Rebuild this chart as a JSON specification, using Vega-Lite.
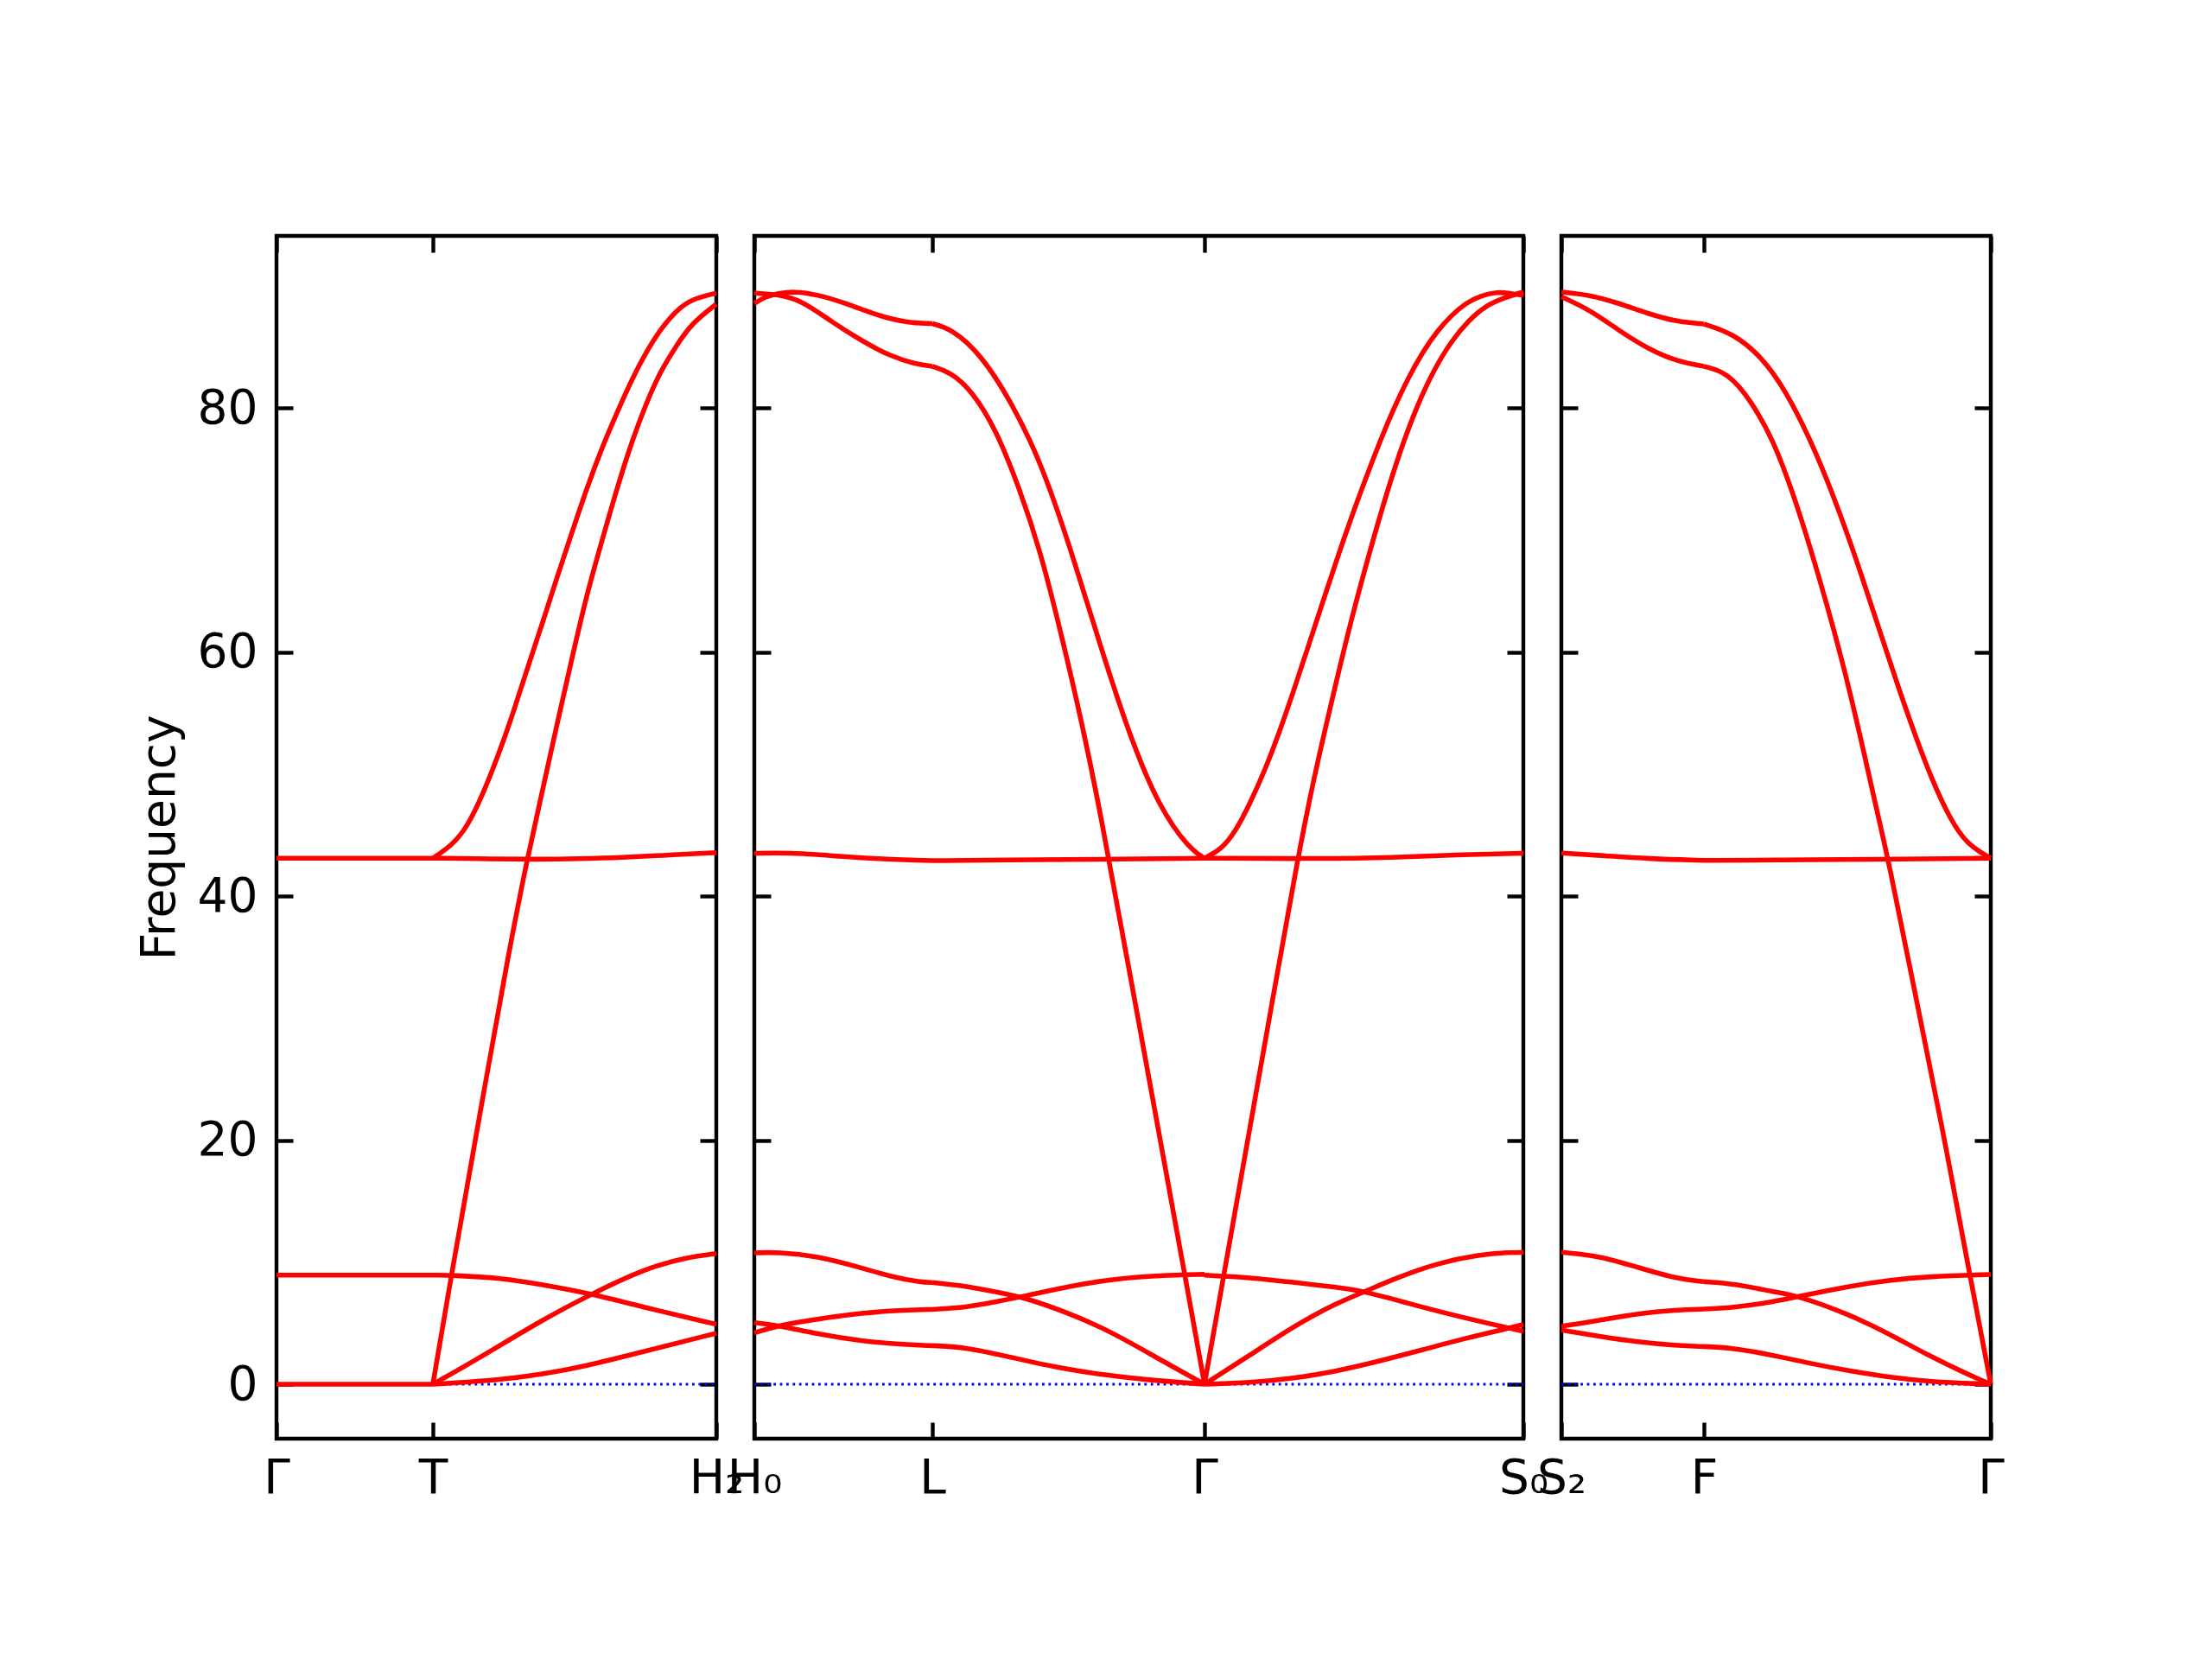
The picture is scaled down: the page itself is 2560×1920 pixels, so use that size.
{
  "$schema": "https://vega.github.io/schema/vega-lite/v6.json",
  "background": "white",
  "padding": {"left": 154, "top": 268, "right": 0, "bottom": 0},
  "spacing": 44,
  "bounds": "flush",
  "datasets": {
    "z1": [{"x0": 0, "x1": 5.09, "y": 0}],
    "z2": [{"x0": 5.09, "x1": 13.99, "y": 0}],
    "z3": [{"x0": 13.99, "x1": 18.96, "y": 0}],
    "p1": [
      {"s": "g0", "x": 0, "y": 0}, {"s": "g0", "x": 1.81, "y": 0},
      {"s": "g9", "x": 0, "y": 8.94}, {"s": "g9", "x": 1.81, "y": 8.94},
      {"s": "g43", "x": 0, "y": 43.1}, {"s": "g43", "x": 1.81, "y": 43.1},
      {"s": "A", "x": 1.81, "y": 43.1}, {"s": "A", "x": 2.04, "y": 44.2}, {"s": "A", "x": 2.21, "y": 45.7}, {"s": "A", "x": 2.386, "y": 48.3}, {"s": "A", "x": 2.56, "y": 51.4}, {"s": "A", "x": 2.73, "y": 54.8}, {"s": "A", "x": 2.9, "y": 58.6}, {"s": "A", "x": 3.08, "y": 62.4}, {"s": "A", "x": 3.25, "y": 66.2}, {"s": "A", "x": 3.42, "y": 69.8}, {"s": "A", "x": 3.59, "y": 73.4}, {"s": "A", "x": 3.77, "y": 76.8}, {"s": "A", "x": 3.94, "y": 79.6}, {"s": "A", "x": 4.11, "y": 82.3}, {"s": "A", "x": 4.28, "y": 84.6}, {"s": "A", "x": 4.45, "y": 86.5}, {"s": "A", "x": 4.63, "y": 88.0}, {"s": "A", "x": 4.8, "y": 88.9}, {"s": "A", "x": 5.09, "y": 89.4},
      {"s": "B", "x": 1.81, "y": 0}, {"s": "B", "x": 2.025, "y": 9.0}, {"s": "B", "x": 2.335, "y": 21.4}, {"s": "B", "x": 2.69, "y": 35.5}, {"s": "B", "x": 2.9, "y": 43.0}, {"s": "B", "x": 3.08, "y": 48.7}, {"s": "B", "x": 3.25, "y": 54.2}, {"s": "B", "x": 3.42, "y": 59.5}, {"s": "B", "x": 3.59, "y": 64.7}, {"s": "B", "x": 3.77, "y": 69.2}, {"s": "B", "x": 3.94, "y": 73.4}, {"s": "B", "x": 4.11, "y": 77.2}, {"s": "B", "x": 4.28, "y": 80.4}, {"s": "B", "x": 4.45, "y": 83.1}, {"s": "B", "x": 4.63, "y": 85.1}, {"s": "B", "x": 4.8, "y": 86.9}, {"s": "B", "x": 5.09, "y": 88.5},
      {"s": "C", "x": 1.81, "y": 43.1}, {"s": "C", "x": 2.5, "y": 43.05}, {"s": "C", "x": 3.0, "y": 43.0}, {"s": "C", "x": 3.5, "y": 43.05}, {"s": "C", "x": 4.0, "y": 43.15}, {"s": "C", "x": 4.5, "y": 43.35}, {"s": "C", "x": 5.09, "y": 43.55},
      {"s": "D", "x": 1.81, "y": 8.94}, {"s": "D", "x": 2.03, "y": 8.93}, {"s": "D", "x": 2.6, "y": 8.71}, {"s": "D", "x": 3.08, "y": 8.16}, {"s": "D", "x": 3.65, "y": 7.41}, {"s": "D", "x": 4.27, "y": 6.27}, {"s": "D", "x": 5.09, "y": 4.91},
      {"s": "E", "x": 1.81, "y": 0}, {"s": "E", "x": 2.36, "y": 2.2}, {"s": "E", "x": 3.08, "y": 5.3}, {"s": "E", "x": 3.65, "y": 7.41}, {"s": "E", "x": 4.27, "y": 9.5}, {"s": "E", "x": 4.75, "y": 10.4}, {"s": "E", "x": 5.09, "y": 10.7},
      {"s": "F", "x": 1.81, "y": 0}, {"s": "F", "x": 2.6, "y": 0.35}, {"s": "F", "x": 3.08, "y": 0.83}, {"s": "F", "x": 3.55, "y": 1.42}, {"s": "F", "x": 4.27, "y": 2.72}, {"s": "F", "x": 5.09, "y": 4.18}
    ],
    "p2": [
      {"s": "P1a", "x": 5.09, "y": 88.56}, {"s": "P1a", "x": 5.226, "y": 89.13}, {"s": "P1a", "x": 5.364, "y": 89.39}, {"s": "P1a", "x": 5.553, "y": 89.54}, {"s": "P1a", "x": 5.812, "y": 89.3}, {"s": "P1a", "x": 6.157, "y": 88.56}, {"s": "P1a", "x": 6.502, "y": 87.6}, {"s": "P1a", "x": 6.846, "y": 86.97}, {"s": "P1a", "x": 7.15, "y": 86.9},
      {"s": "P2a", "x": 5.09, "y": 89.4}, {"s": "P2a", "x": 5.364, "y": 89.3}, {"s": "P2a", "x": 5.64, "y": 88.8}, {"s": "P2a", "x": 5.985, "y": 87.05}, {"s": "P2a", "x": 6.329, "y": 85.5}, {"s": "P2a", "x": 6.674, "y": 84.2}, {"s": "P2a", "x": 6.95, "y": 83.6}, {"s": "P2a", "x": 7.15, "y": 83.4},
      {"s": "Ha", "x": 5.09, "y": 43.5}, {"s": "Ha", "x": 5.5, "y": 43.55}, {"s": "Ha", "x": 6.0, "y": 43.3}, {"s": "Ha", "x": 6.5, "y": 43.05}, {"s": "Ha", "x": 7.15, "y": 42.9},
      {"s": "M1a", "x": 5.09, "y": 10.76}, {"s": "M1a", "x": 5.364, "y": 10.83}, {"s": "M1a", "x": 5.812, "y": 10.52}, {"s": "M1a", "x": 6.329, "y": 9.55}, {"s": "M1a", "x": 6.674, "y": 8.8}, {"s": "M1a", "x": 7.019, "y": 8.35}, {"s": "M1a", "x": 7.15, "y": 8.33},
      {"s": "M2a", "x": 5.09, "y": 4.2}, {"s": "M2a", "x": 5.364, "y": 4.82}, {"s": "M2a", "x": 5.812, "y": 5.33}, {"s": "M2a", "x": 6.329, "y": 5.85}, {"s": "M2a", "x": 6.846, "y": 6.09}, {"s": "M2a", "x": 7.15, "y": 6.13},
      {"s": "M3a", "x": 5.09, "y": 5.05}, {"s": "M3a", "x": 5.364, "y": 4.82}, {"s": "M3a", "x": 5.812, "y": 4.12}, {"s": "M3a", "x": 6.329, "y": 3.53}, {"s": "M3a", "x": 6.846, "y": 3.23}, {"s": "M3a", "x": 7.15, "y": 3.16},
      {"s": "P1b", "x": 7.15, "y": 86.9}, {"s": "P1b", "x": 7.366, "y": 86.5}, {"s": "P1b", "x": 7.711, "y": 84.4}, {"s": "P1b", "x": 8.055, "y": 80.6}, {"s": "P1b", "x": 8.4, "y": 75.7}, {"s": "P1b", "x": 8.745, "y": 68.6}, {"s": "P1b", "x": 9.089, "y": 60.6}, {"s": "P1b", "x": 9.434, "y": 53.1}, {"s": "P1b", "x": 9.779, "y": 47.2}, {"s": "P1b", "x": 10.123, "y": 43.9}, {"s": "P1b", "x": 10.3, "y": 43.1},
      {"s": "P2b", "x": 7.15, "y": 83.4}, {"s": "P2b", "x": 7.366, "y": 82.9}, {"s": "P2b", "x": 7.607, "y": 81.4}, {"s": "P2b", "x": 7.883, "y": 78.3}, {"s": "P2b", "x": 8.159, "y": 73.4}, {"s": "P2b", "x": 8.4, "y": 68.3}, {"s": "P2b", "x": 8.641, "y": 61.5}, {"s": "P2b", "x": 8.882, "y": 54.2}, {"s": "P2b", "x": 9.089, "y": 47.0}, {"s": "P2b", "x": 9.19, "y": 43.0}, {"s": "P2b", "x": 9.42, "y": 34.3}, {"s": "P2b", "x": 9.7, "y": 23.4}, {"s": "P2b", "x": 9.898, "y": 15.7}, {"s": "P2b", "x": 10.1, "y": 7.9}, {"s": "P2b", "x": 10.3, "y": 0},
      {"s": "Hb", "x": 7.15, "y": 42.9}, {"s": "Hb", "x": 8.0, "y": 42.95}, {"s": "Hb", "x": 9.0, "y": 43.0}, {"s": "Hb", "x": 10.3, "y": 43.1},
      {"s": "M1b", "x": 7.15, "y": 8.33}, {"s": "M1b", "x": 7.536, "y": 8.05}, {"s": "M1b", "x": 7.881, "y": 7.57}, {"s": "M1b", "x": 8.19, "y": 7.17}, {"s": "M1b", "x": 8.743, "y": 5.81}, {"s": "M1b", "x": 9.26, "y": 4.16}, {"s": "M1b", "x": 9.778, "y": 2.04}, {"s": "M1b", "x": 10.3, "y": 0},
      {"s": "M2b", "x": 7.15, "y": 6.13}, {"s": "M2b", "x": 7.536, "y": 6.28}, {"s": "M2b", "x": 7.881, "y": 6.75}, {"s": "M2b", "x": 8.19, "y": 7.17}, {"s": "M2b", "x": 8.743, "y": 8.05}, {"s": "M2b", "x": 9.26, "y": 8.64}, {"s": "M2b", "x": 9.778, "y": 8.92}, {"s": "M2b", "x": 10.3, "y": 9.0},
      {"s": "M3b", "x": 7.15, "y": 3.16}, {"s": "M3b", "x": 7.536, "y": 3.04}, {"s": "M3b", "x": 8.053, "y": 2.22}, {"s": "M3b", "x": 8.57, "y": 1.39}, {"s": "M3b", "x": 9.088, "y": 0.8}, {"s": "M3b", "x": 9.605, "y": 0.37}, {"s": "M3b", "x": 10.3, "y": 0},
      {"s": "S1c", "x": 10.3, "y": 43.1}, {"s": "S1c", "x": 10.493, "y": 43.8}, {"s": "S1c", "x": 10.66, "y": 45.3}, {"s": "S1c", "x": 10.827, "y": 47.6}, {"s": "S1c", "x": 10.993, "y": 50.2}, {"s": "S1c", "x": 11.16, "y": 53.3}, {"s": "S1c", "x": 11.327, "y": 56.7}, {"s": "S1c", "x": 11.493, "y": 60.3}, {"s": "S1c", "x": 11.66, "y": 63.9}, {"s": "S1c", "x": 11.827, "y": 67.5}, {"s": "S1c", "x": 11.993, "y": 70.9}, {"s": "S1c", "x": 12.16, "y": 74.1}, {"s": "S1c", "x": 12.327, "y": 77.2}, {"s": "S1c", "x": 12.493, "y": 80.0}, {"s": "S1c", "x": 12.66, "y": 82.5}, {"s": "S1c", "x": 12.827, "y": 84.6}, {"s": "S1c", "x": 12.993, "y": 86.3}, {"s": "S1c", "x": 13.16, "y": 87.6}, {"s": "S1c", "x": 13.327, "y": 88.6}, {"s": "S1c", "x": 13.493, "y": 89.2}, {"s": "S1c", "x": 13.693, "y": 89.5}, {"s": "S1c", "x": 13.827, "y": 89.4}, {"s": "S1c", "x": 13.99, "y": 89.2},
      {"s": "S2c", "x": 10.3, "y": 0}, {"s": "S2c", "x": 10.52, "y": 8.8}, {"s": "S2c", "x": 10.8, "y": 20.0}, {"s": "S2c", "x": 11.1, "y": 32.0}, {"s": "S2c", "x": 11.377, "y": 43.0}, {"s": "S2c", "x": 11.56, "y": 49.5}, {"s": "S2c", "x": 11.76, "y": 55.6}, {"s": "S2c", "x": 11.96, "y": 61.6}, {"s": "S2c", "x": 12.16, "y": 66.9}, {"s": "S2c", "x": 12.36, "y": 71.9}, {"s": "S2c", "x": 12.56, "y": 76.4}, {"s": "S2c", "x": 12.76, "y": 80.2}, {"s": "S2c", "x": 12.96, "y": 83.2}, {"s": "S2c", "x": 13.16, "y": 85.5}, {"s": "S2c", "x": 13.36, "y": 87.2}, {"s": "S2c", "x": 13.56, "y": 88.4}, {"s": "S2c", "x": 13.76, "y": 89.0}, {"s": "S2c", "x": 13.99, "y": 89.5},
      {"s": "Hc", "x": 10.3, "y": 43.1}, {"s": "Hc", "x": 11.5, "y": 43.05}, {"s": "Hc", "x": 12.5, "y": 43.15}, {"s": "Hc", "x": 13.3, "y": 43.4}, {"s": "Hc", "x": 13.99, "y": 43.5},
      {"s": "N1c", "x": 10.3, "y": 0}, {"s": "N1c", "x": 10.827, "y": 2.38}, {"s": "N1c", "x": 11.327, "y": 4.74}, {"s": "N1c", "x": 11.827, "y": 6.65}, {"s": "N1c", "x": 12.16, "y": 7.6}, {"s": "N1c", "x": 12.493, "y": 8.64}, {"s": "N1c", "x": 12.993, "y": 9.93}, {"s": "N1c", "x": 13.493, "y": 10.64}, {"s": "N1c", "x": 13.827, "y": 10.8}, {"s": "N1c", "x": 13.99, "y": 10.8},
      {"s": "N2c", "x": 10.3, "y": 8.94}, {"s": "N2c", "x": 10.827, "y": 8.75}, {"s": "N2c", "x": 11.327, "y": 8.35}, {"s": "N2c", "x": 11.827, "y": 7.95}, {"s": "N2c", "x": 12.16, "y": 7.6}, {"s": "N2c", "x": 12.66, "y": 6.62}, {"s": "N2c", "x": 13.16, "y": 5.69}, {"s": "N2c", "x": 13.66, "y": 4.86}, {"s": "N2c", "x": 13.99, "y": 4.34},
      {"s": "N3c", "x": 10.3, "y": 0}, {"s": "N3c", "x": 10.827, "y": 0.12}, {"s": "N3c", "x": 11.327, "y": 0.47}, {"s": "N3c", "x": 11.827, "y": 1.06}, {"s": "N3c", "x": 12.327, "y": 1.89}, {"s": "N3c", "x": 12.827, "y": 2.83}, {"s": "N3c", "x": 13.327, "y": 3.78}, {"s": "N3c", "x": 13.827, "y": 4.6}, {"s": "N3c", "x": 13.99, "y": 4.9}
    ],
    "p3": [
      {"s": "Q1a", "x": 13.99, "y": 89.5}, {"s": "Q1a", "x": 14.327, "y": 89.25}, {"s": "Q1a", "x": 14.662, "y": 88.56}, {"s": "Q1a", "x": 14.998, "y": 87.7}, {"s": "Q1a", "x": 15.33, "y": 87.05}, {"s": "Q1a", "x": 15.64, "y": 86.87},
      {"s": "Q2a", "x": 13.99, "y": 89.1}, {"s": "Q2a", "x": 14.327, "y": 88.0}, {"s": "Q2a", "x": 14.662, "y": 86.3}, {"s": "Q2a", "x": 14.998, "y": 84.8}, {"s": "Q2a", "x": 15.33, "y": 83.8}, {"s": "Q2a", "x": 15.64, "y": 83.4},
      {"s": "Q3a", "x": 13.99, "y": 43.53}, {"s": "Q3a", "x": 14.5, "y": 43.3}, {"s": "Q3a", "x": 15.0, "y": 43.05}, {"s": "Q3a", "x": 15.64, "y": 42.92},
      {"s": "R1a", "x": 13.99, "y": 10.81}, {"s": "R1a", "x": 14.429, "y": 10.52}, {"s": "R1a", "x": 14.875, "y": 9.58}, {"s": "R1a", "x": 15.32, "y": 8.64}, {"s": "R1a", "x": 15.64, "y": 8.4},
      {"s": "R2a", "x": 13.99, "y": 4.75}, {"s": "R2a", "x": 14.429, "y": 5.22}, {"s": "R2a", "x": 14.875, "y": 5.8}, {"s": "R2a", "x": 15.32, "y": 6.09}, {"s": "R2a", "x": 15.64, "y": 6.16},
      {"s": "R3a", "x": 13.99, "y": 4.45}, {"s": "R3a", "x": 14.429, "y": 3.92}, {"s": "R3a", "x": 14.875, "y": 3.45}, {"s": "R3a", "x": 15.32, "y": 3.16}, {"s": "R3a", "x": 15.64, "y": 3.09},
      {"s": "Q1b", "x": 15.64, "y": 86.87}, {"s": "Q1b", "x": 15.982, "y": 86.1}, {"s": "Q1b", "x": 16.32, "y": 84.1}, {"s": "Q1b", "x": 16.59, "y": 81.35}, {"s": "Q1b", "x": 16.86, "y": 77.56}, {"s": "Q1b", "x": 17.063, "y": 74.15}, {"s": "Q1b", "x": 17.266, "y": 70.35}, {"s": "Q1b", "x": 17.469, "y": 66.2}, {"s": "Q1b", "x": 17.67, "y": 61.8}, {"s": "Q1b", "x": 17.874, "y": 57.45}, {"s": "Q1b", "x": 18.077, "y": 53.3}, {"s": "Q1b", "x": 18.28, "y": 49.5}, {"s": "Q1b", "x": 18.482, "y": 46.4}, {"s": "Q1b", "x": 18.685, "y": 44.2}, {"s": "Q1b", "x": 18.96, "y": 43.1},
      {"s": "Q2b", "x": 15.64, "y": 83.4}, {"s": "Q2b", "x": 15.915, "y": 82.9}, {"s": "Q2b", "x": 16.185, "y": 80.6}, {"s": "Q2b", "x": 16.455, "y": 77.2}, {"s": "Q2b", "x": 16.69, "y": 72.6}, {"s": "Q2b", "x": 16.86, "y": 68.8}, {"s": "Q2b", "x": 17.063, "y": 63.9}, {"s": "Q2b", "x": 17.266, "y": 58.6}, {"s": "Q2b", "x": 17.469, "y": 52.5}, {"s": "Q2b", "x": 17.67, "y": 46.1}, {"s": "Q2b", "x": 17.773, "y": 43.0}, {"s": "Q2b", "x": 18.07, "y": 32.5}, {"s": "Q2b", "x": 18.39, "y": 21.4}, {"s": "Q2b", "x": 18.715, "y": 9.0}, {"s": "Q2b", "x": 18.96, "y": 0},
      {"s": "Q3b", "x": 15.64, "y": 42.92}, {"s": "Q3b", "x": 16.5, "y": 42.95}, {"s": "Q3b", "x": 17.5, "y": 43.0}, {"s": "Q3b", "x": 18.96, "y": 43.1},
      {"s": "R1b", "x": 15.64, "y": 8.4}, {"s": "R1b", "x": 15.99, "y": 8.24}, {"s": "R1b", "x": 16.44, "y": 7.57}, {"s": "R1b", "x": 16.75, "y": 7.22}, {"s": "R1b", "x": 17.33, "y": 5.69}, {"s": "R1b", "x": 17.78, "y": 4.15}, {"s": "R1b", "x": 18.23, "y": 2.38}, {"s": "R1b", "x": 18.68, "y": 0.85}, {"s": "R1b", "x": 18.96, "y": 0},
      {"s": "R2b", "x": 15.64, "y": 6.16}, {"s": "R2b", "x": 15.99, "y": 6.28}, {"s": "R2b", "x": 16.44, "y": 6.75}, {"s": "R2b", "x": 16.75, "y": 7.22}, {"s": "R2b", "x": 17.33, "y": 8.05}, {"s": "R2b", "x": 17.78, "y": 8.52}, {"s": "R2b", "x": 18.23, "y": 8.83}, {"s": "R2b", "x": 18.96, "y": 8.99},
      {"s": "R3b", "x": 15.64, "y": 3.09}, {"s": "R3b", "x": 15.99, "y": 2.97}, {"s": "R3b", "x": 16.44, "y": 2.38}, {"s": "R3b", "x": 16.89, "y": 1.67}, {"s": "R3b", "x": 17.33, "y": 1.08}, {"s": "R3b", "x": 17.78, "y": 0.57}, {"s": "R3b", "x": 18.23, "y": 0.21}, {"s": "R3b", "x": 18.96, "y": 0}
    ]
  },
  "hconcat": [
    {
      "width": 509, "height": 1392,
      "layer": [
        {
          "data": {"name": "z1"},
          "mark": {"type": "rule", "color": "#0000ff", "strokeWidth": 2.8, "strokeDash": [2.8, 4.6]},
          "encoding": {
            "x": {"field": "x0", "type": "quantitative", "scale": {"domain": [0, 5.09], "nice": false, "zero": false}, "axis": {"orient": "top", "values": [0, 1.81, 5.09], "labels": false, "title": null}},
            "x2": {"field": "x1"},
            "y": {"field": "y", "type": "quantitative", "scale": {"domain": [-4.46, 94.09], "nice": false, "zero": false}, "axis": {"orient": "right", "values": [0, 20, 40, 60, 80], "labels": false, "title": null}}
          }
        },
        {
          "data": {"name": "p1"},
          "mark": {"type": "line"},
          "encoding": {
            "x": {"field": "x", "type": "quantitative", "scale": {"domain": [0, 5.09], "nice": false, "zero": false}, "axis": {"orient": "bottom", "values": [0, 1.81, 5.09], "labelExpr": "datum.value < 1 ? 'Γ' : datum.value < 3 ? 'T' : 'H₂'", "labelPadding": 38, "title": null}},
            "y": {"field": "y", "type": "quantitative", "scale": {"domain": [-4.46, 94.09], "nice": false, "zero": false}, "axis": {"orient": "left", "values": [0, 20, 40, 60, 80], "labelPadding": 41, "title": "Frequency", "titleX": -136, "titleY": 696, "titleAngle": 270, "titleAlign": "center", "titleBaseline": "middle"}},
            "detail": {"field": "s"}
          }
        }
      ],
      "resolve": {"axis": {"x": "independent", "y": "independent"}}
    },
    {
      "width": 890, "height": 1392,
      "layer": [
        {
          "data": {"name": "z2"},
          "mark": {"type": "rule", "color": "#0000ff", "strokeWidth": 2.8, "strokeDash": [2.8, 4.6]},
          "encoding": {
            "x": {"field": "x0", "type": "quantitative", "scale": {"domain": [5.09, 13.99], "nice": false, "zero": false}, "axis": {"orient": "top", "values": [5.09, 7.15, 10.3, 13.99], "labels": false, "title": null}},
            "x2": {"field": "x1"},
            "y": {"field": "y", "type": "quantitative", "scale": {"domain": [-4.46, 94.09], "nice": false, "zero": false}, "axis": {"orient": "right", "values": [0, 20, 40, 60, 80], "labels": false, "title": null}}
          }
        },
        {
          "data": {"name": "p2"},
          "mark": {"type": "line"},
          "encoding": {
            "x": {"field": "x", "type": "quantitative", "scale": {"domain": [5.09, 13.99], "nice": false, "zero": false}, "axis": {"orient": "bottom", "values": [5.09, 7.15, 10.3, 13.99], "labelExpr": "datum.value < 6 ? 'H₀' : datum.value < 8 ? 'L' : datum.value < 12 ? 'Γ' : 'S₀'", "labelPadding": 38, "title": null}},
            "y": {"field": "y", "type": "quantitative", "scale": {"domain": [-4.46, 94.09], "nice": false, "zero": false}, "axis": {"orient": "left", "values": [0, 20, 40, 60, 80], "labels": false, "title": null}},
            "detail": {"field": "s"}
          }
        }
      ],
      "resolve": {"axis": {"x": "independent", "y": "independent"}}
    },
    {
      "width": 497, "height": 1392,
      "layer": [
        {
          "data": {"name": "z3"},
          "mark": {"type": "rule", "color": "#0000ff", "strokeWidth": 2.8, "strokeDash": [2.8, 4.6]},
          "encoding": {
            "x": {"field": "x0", "type": "quantitative", "scale": {"domain": [13.99, 18.96], "nice": false, "zero": false}, "axis": {"orient": "top", "values": [13.99, 15.64, 18.96], "labels": false, "title": null}},
            "x2": {"field": "x1"},
            "y": {"field": "y", "type": "quantitative", "scale": {"domain": [-4.46, 94.09], "nice": false, "zero": false}, "axis": {"orient": "right", "values": [0, 20, 40, 60, 80], "labels": false, "title": null}}
          }
        },
        {
          "data": {"name": "p3"},
          "mark": {"type": "line"},
          "encoding": {
            "x": {"field": "x", "type": "quantitative", "scale": {"domain": [13.99, 18.96], "nice": false, "zero": false}, "axis": {"orient": "bottom", "values": [13.99, 15.64, 18.96], "labelExpr": "datum.value < 14.5 ? 'S₂' : datum.value < 17 ? 'F' : 'Γ'", "labelPadding": 38, "title": null}},
            "y": {"field": "y", "type": "quantitative", "scale": {"domain": [-4.46, 94.09], "nice": false, "zero": false}, "axis": {"orient": "left", "values": [0, 20, 40, 60, 80], "labels": false, "title": null}},
            "detail": {"field": "s"}
          }
        }
      ],
      "resolve": {"axis": {"x": "independent", "y": "independent"}}
    }
  ],
  "config": {
    "view": {"stroke": "black", "strokeWidth": 4.4},
    "axis": {
      "domain": false, "grid": false,
      "ticks": true, "tickColor": "black", "tickWidth": 4.4, "tickSize": -19,
      "labelFont": "DejaVu Sans", "labelFontSize": 55, "labelColor": "black",
      "titleFont": "DejaVu Sans", "titleFontSize": 55, "titleFontWeight": "normal", "titleColor": "black",
      "labelFlush": false, "labelOverlap": false, "labelBound": false
    },
    "line": {"color": "#ff0000", "strokeWidth": 5.56, "interpolate": "basis", "strokeJoin": "round"}
  }
}
